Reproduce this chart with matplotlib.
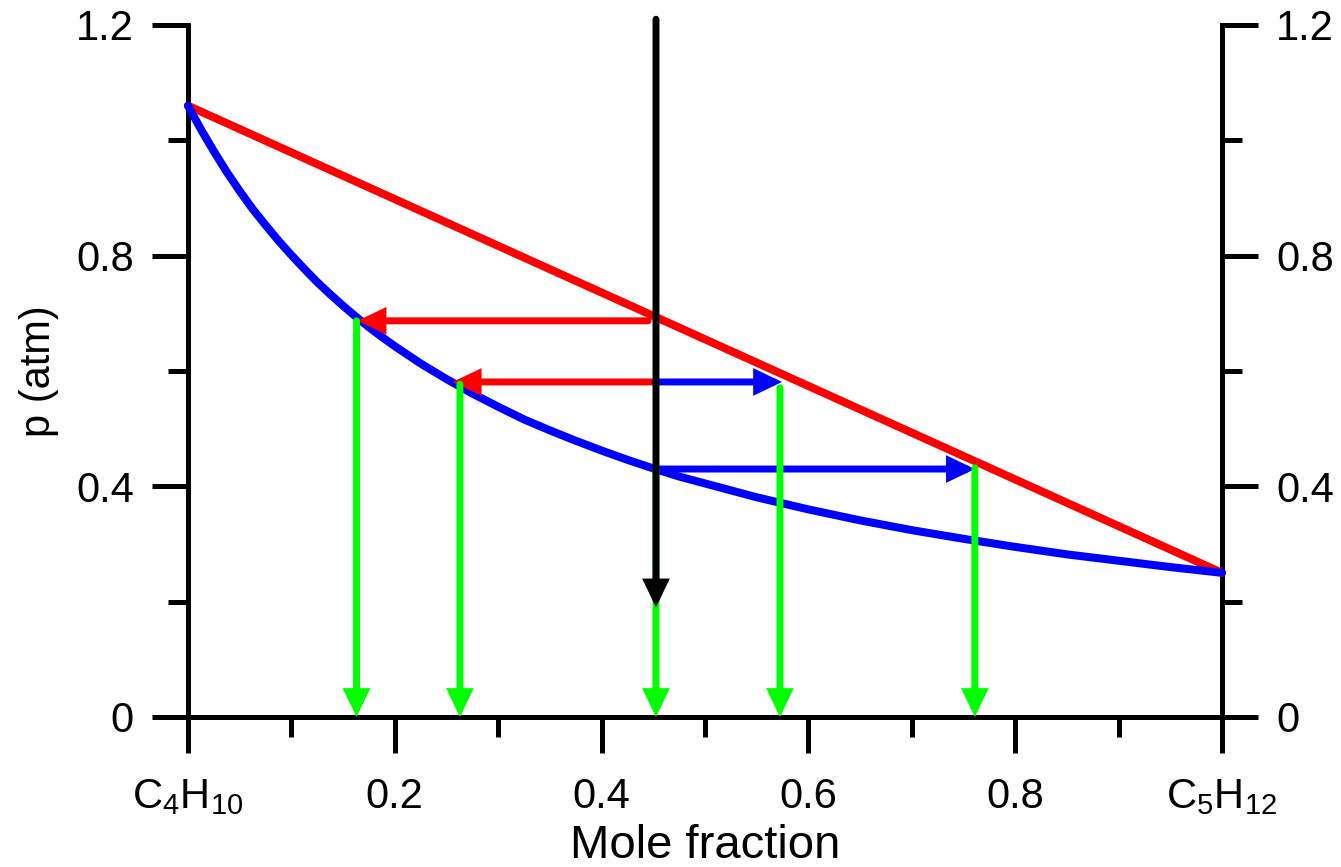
import matplotlib
matplotlib.use("Agg")
import matplotlib.pyplot as plt

plt.rcParams["font.family"] = ["Liberation Sans", "DejaVu Sans"]
plt.rcParams["mathtext.fontset"] = "custom"
plt.rcParams["mathtext.rm"] = "Liberation Sans"
plt.rcParams["mathtext.it"] = "Liberation Sans"

# liquid (bubble) line: straight between the two pure-component pressures
liquid_x = [0.0, 1.0]
liquid_p = [1.06, 0.25]

# vapour (dew) curve
vapour_x = [0.0, 0.0125, 0.025, 0.0375, 0.05, 0.0625, 0.075, 0.0875, 0.1, 0.1125,
            0.125, 0.1375, 0.15, 0.1625, 0.175, 0.1875, 0.2, 0.225, 0.25, 0.275,
            0.3, 0.325, 0.35, 0.375, 0.4, 0.425, 0.45, 0.475, 0.5, 0.55, 0.6,
            0.65, 0.7, 0.75, 0.8, 0.85, 0.9, 0.95, 1.0]
vapour_p = [1.060, 1.019, 0.981, 0.945, 0.912, 0.881, 0.853, 0.826, 0.801, 0.777,
            0.754, 0.733, 0.713, 0.694, 0.676, 0.659, 0.643, 0.613, 0.586, 0.561,
            0.538, 0.516, 0.497, 0.479, 0.462, 0.446, 0.431, 0.417, 0.405, 0.381, 0.360,
            0.341, 0.324, 0.309, 0.295, 0.282, 0.271, 0.260, 0.250]

# overall composition, pressure dropped from above the diagram
feed_x = 0.4526
feed_p_top = 1.21
feed_p_end = 0.19

# horizontal tie-line arrows: (start x, end x, p)
red_arrows = [(0.445, 0.164, 0.687), (0.4516, 0.256, 0.581)]
blue_arrows = [(0.4516, 0.5745, 0.581), (0.4516, 0.761, 0.430)]

# vertical drop lines to the composition axis: (x, p from)
green_arrows = [(0.163, 0.687), (0.263, 0.577), (0.4526, 0.430), (0.5725, 0.571), (0.761, 0.432)]

x_major = [0.0, 0.2, 0.4, 0.6, 0.8, 1.0]
x_labels = ["C$_4$H$_{10}$", "0.2", "0.4", "0.6", "0.8", "C$_5$H$_{12}$"]
x_minor = [0.1, 0.3, 0.5, 0.7, 0.9]
y_major = [0.0, 0.4, 0.8, 1.2]
y_labels = ["0", "0.4", "0.8", "1.2"]
y_minor = [0.2, 0.6, 1.0]

RED = "#ff0000"
BLUE = "#0000ff"
GREEN = "#00ff00"
CURVE_LW = 5.8
ARROW_LW = 5.0
FS = 30


def arrow(ax, start, end, color, z):
    ax.annotate(
        "", xy=end, xytext=start,
        arrowprops=dict(arrowstyle="-|>,head_length=12.5,head_width=6", mutation_scale=1,
                        color=color, lw=ARROW_LW, shrinkA=0, shrinkB=0, joinstyle="miter"),
        zorder=z, annotation_clip=False,
    )


fig = plt.figure(figsize=(13.41, 8.67), dpi=100)
ax = fig.add_axes([188 / 1341, 1 - 717 / 867, (1222 - 188) / 1341, (717 - 25) / 867])

ax.plot(liquid_x, liquid_p, color=RED, lw=CURVE_LW, solid_capstyle="round", zorder=3, clip_on=False)
ax.plot(vapour_x, vapour_p, color=BLUE, lw=CURVE_LW, solid_capstyle="round",
        solid_joinstyle="round", zorder=4, clip_on=False)

for x0, x1, p in red_arrows:
    arrow(ax, (x0, p), (x1, p), RED, 5)
for x0, x1, p in blue_arrows:
    arrow(ax, (x0, p), (x1, p), BLUE, 5)
for x, p in green_arrows:
    arrow(ax, (x, p), (x, 0.0), GREEN, 6)
arrow(ax, (feed_x, feed_p_top), (feed_x, feed_p_end), "black", 7)

ax.set_xlim(0, 1)
ax.set_ylim(0, 1.2)
ax.set_xticks(x_major)
ax.set_xticklabels(x_labels)
ax.set_xticks(x_minor, minor=True)
ax.set_yticks(y_major)
ax.set_yticklabels(y_labels)
ax.set_yticks(y_minor, minor=True)

ax.spines["top"].set_visible(False)
for side in ("left", "right", "bottom"):
    ax.spines[side].set_linewidth(3.6)
ax.tick_params(which="both", direction="out", width=3.6, right=True, labelright=True,
               labelsize=FS)
ax.tick_params(which="major", length=26, pad=13)
ax.tick_params(which="minor", length=14.4)
ax.tick_params(axis="x", which="major", pad=17)

ax.set_xlabel("Mole fraction", fontsize=34, labelpad=5)
ax.set_ylabel("p (atm)", fontsize=FS, labelpad=12)

fig.savefig("out.png", dpi=100)
